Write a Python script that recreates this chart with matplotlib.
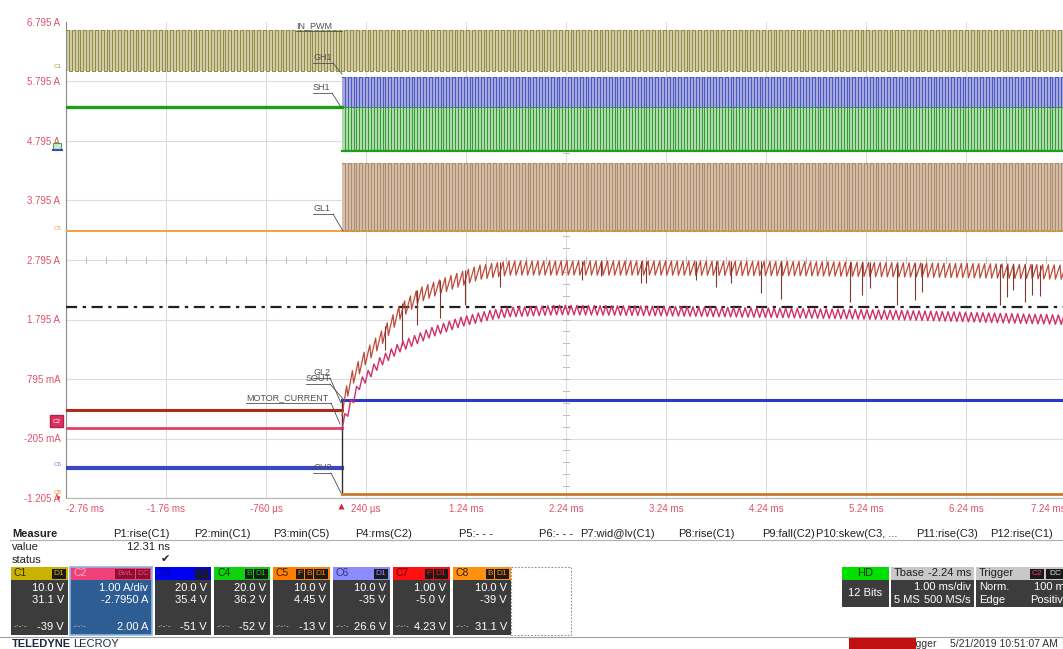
import matplotlib
matplotlib.use("Agg")
import matplotlib.pyplot as plt
from matplotlib.patches import Rectangle, FancyBboxPatch
import numpy as np

plt.rcParams['font.family'] = ['Liberation Sans', 'DejaVu Sans']

# screen: 10 div x 1.00 ms/div, 8 div x 1.00 A/div
t_left = -2.76
t_right = 7.24
v_bottom = -1.205
v_top = 6.795

time_labels = ['-2.76 ms', '-1.76 ms', '-760 µs', '240 µs', '1.24 ms', '2.24 ms',
               '3.24 ms', '4.24 ms', '5.24 ms', '6.24 ms', '7.24 ms']
level_labels = ['-1.205 A', '-205 mA', '795 mA', '1.795 A', '2.795 A',
                '3.795 A', '4.795 A', '5.795 A', '6.795 A']

# switching signals (low, high), all at the same pwm rate
pwm_period = 0.058
in_pwm = (5.97, 6.66)
gh1 = (5.37, 5.87)
sh1 = (4.63, 5.37)
gl1 = (3.28, 4.43)
sh1_idle = 5.37
gl1_idle = 3.28

# slow traces: level before the trigger, then envelope after it
gl2_idle = 0.27
gl2_t = [0.0, 0.08, 0.23, 0.38, 0.58, 0.78, 1.08, 1.38, 1.68, 2.18, 3.08, 4.58, 5.58, 6.58, 7.24]
gl2_v = [0.30, 0.75, 1.15, 1.45, 1.92, 2.21, 2.41, 2.59, 2.66, 2.66, 2.66, 2.65, 2.63, 2.61, 2.59]
gl2_ripple = 0.24
gl2_spike_t = [0.43, 0.60, 0.75, 0.98, 1.23, 1.58, 2.40, 2.59, 2.99, 3.04, 3.54, 3.74, 3.89,
               4.19, 4.39, 5.08, 5.20, 5.28, 5.55, 5.73, 5.80, 6.58, 6.65, 6.71, 6.83, 6.90, 6.98]
gl2_spike_v = [1.28, 1.37, 1.70, 1.82, 2.04, 2.34, 2.46, 2.53, 2.41, 2.41, 2.46, 2.34, 2.41,
               2.24, 2.14, 2.09, 2.21, 2.33, 2.04, 2.12, 2.26, 2.04, 2.17, 2.29, 2.09, 2.21, 2.19]

motor_idle = -0.03
motor_t = [0.0, 0.17, 0.38, 0.58, 0.88, 1.18, 1.48, 1.68, 2.18, 3.08, 4.58, 5.58, 6.58, 7.24]
motor_v = [0.02, 0.69, 1.08, 1.33, 1.57, 1.75, 1.87, 1.92, 1.955, 1.94, 1.90, 1.87, 1.82, 1.79]
motor_ripple = 0.16

sout_level = 0.44
gh2_idle = -0.70
gh2_on = -1.14
cursor_level = 2.005


def square(t0, t1, lo, hi):
    edges = np.arange(t0, t1 + pwm_period / 2, pwm_period / 2)
    lv = np.where(np.arange(len(edges)) % 2 == 0, hi, lo)
    return np.repeat(edges, 2)[1:-1], np.repeat(lv[:-1], 2)


def rippled(env_t, env_v, amp, rise):
    starts = np.arange(0.0, t_right, pwm_period)
    c = np.interp(starts, env_t, env_v)
    c2 = np.interp(starts + rise * pwm_period, env_t, env_v)
    xs = np.column_stack([starts, starts + rise * pwm_period]).ravel()
    ys = np.column_stack([c - amp / 2, c2 + amp / 2]).ravel()
    return xs, ys


fig = plt.figure(figsize=(10.63, 6.49), dpi=100)
fig.patch.set_facecolor('white')
ax = fig.add_axes([66 / 1063, 151 / 649, 1000 / 1063, 476 / 649])
ax.set_xlim(t_left, t_right)
ax.set_ylim(v_bottom, v_top)

ax.set_xticks(np.arange(len(time_labels)) + t_left)
ax.set_xticklabels(time_labels)
ax.set_yticks(np.arange(len(level_labels)) + v_bottom)
ax.set_yticklabels(level_labels)
ax.tick_params(length=0, labelsize=7, labelcolor='#e0506a', pad=4)
ax.get_xticklabels()[0].set_ha('left')
ax.get_xticklabels()[-1].set_ha('right')
ax.grid(color='#dcdcdc', lw=0.8, zorder=0)
ax.yaxis.get_gridlines()[-1].set_visible(False)
ax.set_axisbelow(True)
for s in ['top', 'right']:
    ax.spines[s].set_visible(False)
ax.spines['left'].set_color('#8a8a8a')
ax.spines['bottom'].set_color('#b4b4b4')

# centre crosshair minor ticks
tc = t_left + 5
vc = v_bottom + 4
for k in range(51):
    tt = t_left + 0.2 * k
    ax.plot([tt, tt], [vc - 0.05, vc + 0.05], color='#bdbdbd', lw=0.7, zorder=1)
for k in range(40):
    vv = v_bottom + 0.2 * k
    ax.plot([tc - 0.03, tc + 0.03], [vv, vv], color='#bdbdbd', lw=0.7, zorder=1)

# IN_PWM over the whole record
ax.fill_between([t_left, t_right], in_pwm[0], in_pwm[1], color='#d2ccaa', lw=0, zorder=2)
x, y = square(t_left, t_right, *in_pwm)
ax.plot(x, y, color='#8f8a3e', lw=0.7, zorder=3)

# half-bridge 1 before / after the trigger
ax.plot([t_left, 0], [sh1_idle, sh1_idle], color='#1c9e1c', lw=2.4, zorder=4)
ax.plot([t_left, 0], [gl1_idle, gl1_idle], color='#f4a040', lw=1.4, zorder=4)
ax.fill_between([0, t_right], gh1[0], gh1[1], color='#a4a8dc', lw=0, zorder=2)
ax.fill_between([0, t_right], sh1[0], sh1[1], color='#b2d8b0', lw=0, zorder=2)
ax.fill_between([0, t_right], gl1[0], gl1[1], color='#d6c0aa', lw=0, zorder=2)
x, y = square(0, t_right, *gh1)
ax.plot(x, y, color='#4b55c2', lw=0.7, zorder=3)
x, y = square(0, t_right, *sh1)
ax.plot(x, y, color='#2aa02a', lw=0.7, zorder=3)
ax.plot([0, t_right], [sh1[0], sh1[0]], color='#1c9e1c', lw=1.6, zorder=3)
x, y = square(0, t_right, *gl1)
ax.plot(x, y, color='#b08a6c', lw=0.8, zorder=3)
ax.plot([0, t_right], [gl1[0], gl1[0]], color='#c8963a', lw=1.2, zorder=3)

# cursor
ax.plot([t_left, t_right], [cursor_level, cursor_level], color='#202020', lw=1.6,
        ls=(0, (5, 2.5, 1.5, 2.5)), zorder=6)

# slow traces
ax.plot([t_left, 0], [gl2_idle, gl2_idle], color='#b42a1a', lw=2.2, zorder=5)
ax.plot([t_left, 0], [motor_idle, motor_idle], color='#e0406a', lw=2.0, zorder=5)
ax.plot([t_left, 0], [gh2_idle, gh2_idle], color='#3848c4', lw=3.0, zorder=5)
ax.plot([0, 0], [sout_level, gh2_on], color='#303030', lw=1.0, zorder=5)
ax.plot([0, t_right], [sout_level, sout_level], color='#2838c8', lw=2.2, zorder=5)
ax.plot([0, t_right], [gh2_on, gh2_on], color='#c87a2a', lw=2.0, zorder=5)

x, y = rippled(gl2_t, gl2_v, gl2_ripple, 0.8)
ax.plot(x, y, color='#c04a3a', lw=0.9, zorder=6)
top = np.interp(gl2_spike_t, gl2_t, gl2_v) + gl2_ripple / 2
ax.vlines(gl2_spike_t, gl2_spike_v, top, color='#7a3a30', lw=0.8, zorder=6)

x, y = rippled(motor_t, motor_v, motor_ripple, 0.5)
ax.plot(x, y, color='#d0306a', lw=1.0, zorder=7)

# overlay in pixel units for the annotations and the status panel
ov = fig.add_axes([0, 0, 1, 1])
ov.set_xlim(0, 1063)
ov.set_ylim(649, 0)
ov.axis('off')
ov.patch.set_alpha(0)

tag_color = '#505050'
tags = [('IN_PWM', 296, 30, 333, 342, 31),
        ('GH1', 313, 62, 333, 342, 74),
        ('SH1', 313, 92, 332, 341, 107),
        ('GL1', 313, 213, 333, 343, 231),
        ('GL2', 313, 377, 330, 341, 403),
        ('SOUT', 306, 383, 330, 344, 400),
        ('MOTOR_CURRENT', 246, 402, 331, 340, 424),
        ('GH2', 313, 472, 331, 341, 493)]
for txt, x0, y0, x1, ex, ey in tags:
    ov.text(x0, y0, txt, fontsize=6.5, color=tag_color, ha='left', va='bottom')
    ov.plot([x0, x1], [y0 + 1, y0 + 1], color=tag_color, lw=0.6)
    ov.plot([x1, ex], [y0 + 1, ey], color=tag_color, lw=0.6)

# trigger marker and channel offset markers
ov.plot([341], [506], marker='^', ms=5, color='#e02030', mec='none')
ov.text(58, 67, 'C1', fontsize=4.5, color='#a0a040', ha='center', va='center')
ov.add_patch(Rectangle((53, 143), 8, 6, fc='#c8e8c8', ec='#1c9e1c', lw=0.6))
ov.plot([53, 62], [150, 150], color='#3848c4', lw=1.5)
ov.text(58, 229, 'C5', fontsize=4.5, color='#f0a040', ha='center', va='center')
ov.add_patch(FancyBboxPatch((51, 416), 12, 11, boxstyle='round,pad=0.5', fc='#e03060', ec='#b02050'))
ov.text(57, 421.5, 'C2', fontsize=4.5, color='white', ha='center', va='center')
ov.text(58, 464, 'C6', fontsize=4.5, color='#8080e0', ha='center', va='center')
ov.text(58, 492, 'C8', fontsize=4.5, color='#f08020', ha='center', va='center')
ov.plot([58], [498], marker='v', ms=3, color='#e03020', mec='none')

# measurement table
ov.text(12, 534, 'Measure', fontsize=8, fontweight='bold', color='#202020', va='center')
ov.plot([10, 1063], [540, 540], color='#b0b0b0', lw=0.8)
params = ['P1:rise(C1)', 'P2:min(C1)', 'P3:min(C5)', 'P4:rms(C2)', 'P5:- - -', 'P6:- - -',
          'P7:wid@lv(C1)', 'P8:rise(C1)', 'P9:fall(C2)', 'P10:skew(C3, ...', 'P11:rise(C3)',
          'P12:rise(C1)']
param_right = [170, 251, 330, 412, 493, 573, 655, 735, 815, 897, 978, 1053]
for p, xr in zip(params, param_right):
    ov.text(xr, 534, p, fontsize=8, color='#202020', ha='right', va='center')
ov.text(12, 547, 'value', fontsize=8, color='#202020', va='center')
ov.text(12, 560, 'status', fontsize=8, color='#202020', va='center')
ov.text(170, 547, '12.31 ns', fontsize=8, color='#202020', ha='right', va='center')
ov.text(165, 559, '✔', fontsize=8, color='#202020', ha='center', va='center', family='DejaVu Sans')

# channel descriptor boxes
chan = ['C1', 'C2', 'C3', 'C4', 'C5', 'C6', 'C7', 'C8']
chan_head = ['#c8b400', '#f0407a', '#0000f0', '#10d010', '#ff8000', '#8c8cff', '#ff1010', '#ff9010']
chan_tag = ['#303000', '#ffb0c8', '#0000a0', '#004000', '#402000', '#30307a', '#600000', '#402000']
chan_badges = [['D1'], ['BwL', 'DC'], ['D1'], ['B', 'D1'], ['F', 'B', 'D1'], ['D1'], ['F', 'D1'], ['B', 'D1']]
chan_scale = ['10.0 V', '1.00 A/div', '20.0 V', '20.0 V', '10.0 V', '10.0 V', '1.00 V', '10.0 V']
chan_offset = ['31.1 V', '-2.7950 A', '35.4 V', '36.2 V', '4.45 V', '-35 V', '-5.0 V', '-39 V']
chan_level = ['-39 V', '2.00 A', '-51 V', '-52 V', '-13 V', '26.6 V', '4.23 V', '31.1 V']
chan_x = [(11, 68), (70, 152), (155, 211), (214, 270), (273, 330), (333, 390), (393, 450), (453, 511)]

for i, (x0, x1) in enumerate(chan_x):
    body = '#2e5d94' if i == 1 else '#3c3c3c'
    ov.add_patch(Rectangle((x0, 580), x1 - x0, 55, fc=body, ec='none'))
    ov.add_patch(Rectangle((x0, 567), x1 - x0, 13, fc=chan_head[i], ec='none'))
    if i == 1:
        ov.add_patch(Rectangle((x0, 567), x1 - x0, 68, fc='none', ec='#8ab8e8', lw=1.2))
    ov.text(x0 + 3, 573.5, chan[i], fontsize=7.5, color=chan_tag[i], va='center')
    bx = x1 - 2
    for b in reversed(chan_badges[i]):
        w = 6 * len(b) + 2
        ov.add_patch(Rectangle((bx - w, 568.5), w, 10, fc='#1a1a1a' if i != 1 else '#8a1030', ec='none'))
        ov.text(bx - w / 2, 573.5, b, fontsize=6, color=chan_head[i], ha='center', va='center')
        bx -= w + 1
    ov.text(x1 - 4, 588, chan_scale[i], fontsize=8, color='white', ha='right', va='center')
    ov.text(x1 - 4, 600, chan_offset[i], fontsize=8, color='white', ha='right', va='center')
    ov.text(x1 - 4, 627, chan_level[i], fontsize=8, color='white', ha='right', va='center')
    ov.text(x0 + 3, 627, '-·-·-', fontsize=6, color='#d0d0d0', va='center')
ov.add_patch(Rectangle((511, 567), 60, 68, fc='none', ec='#909090', lw=0.8, ls=(0, (1.5, 1.5))))

# acquisition boxes
ov.add_patch(Rectangle((842, 567), 47, 13, fc='#00e000', ec='none'))
ov.add_patch(Rectangle((842, 580), 47, 27, fc='#3c3c3c', ec='none'))
ov.text(865.5, 573.5, 'HD', fontsize=8, color='#103010', ha='center', va='center')
ov.text(865.5, 593, '12 Bits', fontsize=8, color='white', ha='center', va='center')

ov.add_patch(Rectangle((891, 567), 83, 13, fc='#c8c8c8', ec='none'))
ov.add_patch(Rectangle((891, 580), 83, 27, fc='#3c3c3c', ec='none'))
ov.text(894, 573.5, 'Tbase', fontsize=8, color='#202020', va='center')
ov.text(971, 573.5, '-2.24 ms', fontsize=8, color='#202020', ha='right', va='center')
ov.text(971, 587, '1.00 ms/div', fontsize=8, color='white', ha='right', va='center')
ov.text(894, 600, '5 MS', fontsize=8, color='white', va='center')
ov.text(971, 600, '500 MS/s', fontsize=8, color='white', ha='right', va='center')

ov.add_patch(Rectangle((976, 567), 90, 13, fc='#c8c8c8', ec='none'))
ov.add_patch(Rectangle((976, 580), 90, 27, fc='#3c3c3c', ec='none'))
ov.text(979, 573.5, 'Trigger', fontsize=8, color='#202020', va='center')
ov.add_patch(Rectangle((1030, 568.5), 14, 10, fc='#1a1a1a', ec='none'))
ov.text(1037, 573.5, 'C2', fontsize=6, color='#f0407a', ha='center', va='center')
ov.add_patch(Rectangle((1046, 568.5), 18, 10, fc='#1a1a1a', ec='none'))
ov.text(1055, 573.5, 'DC', fontsize=6, color='#e0e0e0', ha='center', va='center')
ov.text(979, 587, 'Norm.', fontsize=8, color='white', va='center')
ov.text(1034, 587, '100 mA', fontsize=8, color='white', va='center')
ov.text(979, 600, 'Edge', fontsize=8, color='white', va='center')
ov.text(1030, 600, 'Positive', fontsize=8, color='white', va='center')

# footer
ov.plot([0, 1063], [637, 637], color='#a0a0a0', lw=0.8)
ov.text(12, 644, 'TELEDYNE', fontsize=8, fontweight='bold', color='#1c2a48', va='center')
ov.text(73, 644, 'LECROY', fontsize=8, color='#1c2a48', va='center')
ov.text(852, 644, 'Waiting for Trigger', fontsize=7.5, color='#303030', va='center')
ov.add_patch(Rectangle((849, 638), 67, 11, fc='#c01010', ec='none', zorder=5))
ov.text(1058, 644, '5/21/2019 10:51:07 AM', fontsize=7.5, color='#303030', ha='right', va='center')

fig.savefig('out.png', dpi=100)
